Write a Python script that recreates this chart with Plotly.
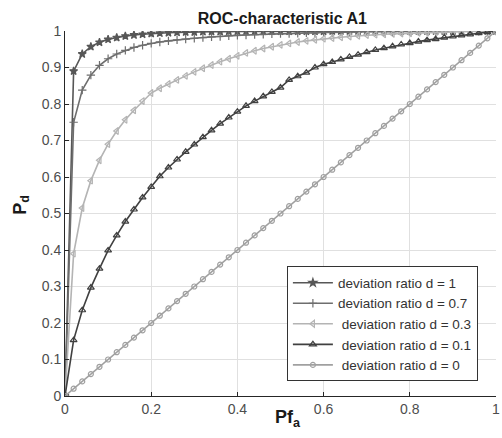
import plotly.graph_objects as go

pfa = [0.00, 0.02, 0.04, 0.06, 0.08, 0.10, 0.12, 0.14, 0.16, 0.18,
       0.20, 0.22, 0.24, 0.26, 0.28, 0.30, 0.32, 0.34, 0.36, 0.38,
       0.40, 0.42, 0.44, 0.46, 0.48, 0.50, 0.52, 0.54, 0.56, 0.58,
       0.60, 0.62, 0.64, 0.66, 0.68, 0.70, 0.72, 0.74, 0.76, 0.78,
       0.80, 0.82, 0.84, 0.86, 0.88, 0.90, 0.92, 0.94, 0.96, 0.98, 1.00]

pd_d1 = [0.000, 0.890, 0.937, 0.957, 0.969, 0.977, 0.982, 0.986, 0.989, 0.991,
         0.993, 0.994, 0.995, 0.996, 0.997, 0.997, 0.998, 0.998, 0.998, 0.999,
         0.999, 0.999, 0.999, 0.999, 0.999, 0.999, 0.999, 0.999, 0.999, 0.999,
         0.999, 1.000, 1.000, 1.000, 1.000, 1.000, 1.000, 1.000, 1.000, 1.000,
         1.000, 1.000, 1.000, 1.000, 1.000, 1.000, 1.000, 1.000, 1.000, 1.000, 1.000]

pd_d07 = [0.000, 0.750, 0.838, 0.879, 0.906, 0.924, 0.937, 0.947, 0.955, 0.961,
          0.966, 0.970, 0.973, 0.976, 0.978, 0.980, 0.982, 0.984, 0.985, 0.987,
          0.988, 0.989, 0.990, 0.991, 0.992, 0.993, 0.993, 0.994, 0.995, 0.995,
          0.996, 0.996, 0.997, 0.997, 0.997, 0.998, 0.998, 0.998, 0.998, 0.999,
          0.999, 0.999, 0.999, 0.999, 0.999, 0.999, 0.999, 0.999, 0.999, 0.999, 1.000]

pd_d03 = [0.000, 0.390, 0.515, 0.590, 0.646, 0.690, 0.726, 0.757, 0.783, 0.808,
          0.830, 0.843, 0.855, 0.866, 0.877, 0.888, 0.898, 0.907, 0.916, 0.924,
          0.932, 0.940, 0.946, 0.952, 0.957, 0.962, 0.966, 0.970, 0.973, 0.976,
          0.979, 0.981, 0.983, 0.985, 0.987, 0.989, 0.990, 0.991, 0.992, 0.993,
          0.994, 0.995, 0.996, 0.997, 0.997, 0.998, 0.998, 0.999, 0.999, 1.000, 1.000]

pd_d01 = [0.000, 0.153, 0.235, 0.297, 0.349, 0.399, 0.440, 0.478, 0.511, 0.544,
          0.573, 0.602, 0.626, 0.648, 0.669, 0.689, 0.709, 0.728, 0.746, 0.763,
          0.779, 0.795, 0.808, 0.821, 0.833, 0.845, 0.866, 0.876, 0.886, 0.900,
          0.909, 0.915, 0.922, 0.929, 0.935, 0.942, 0.948, 0.953, 0.958, 0.963,
          0.967, 0.971, 0.975, 0.978, 0.982, 0.985, 0.988, 0.991, 0.994, 0.997, 1.000]

pd_d0 = [0.00, 0.02, 0.04, 0.06, 0.08, 0.10, 0.12, 0.14, 0.16, 0.18,
         0.20, 0.22, 0.24, 0.26, 0.28, 0.30, 0.32, 0.34, 0.36, 0.38,
         0.40, 0.42, 0.44, 0.46, 0.48, 0.50, 0.52, 0.54, 0.56, 0.58,
         0.60, 0.62, 0.64, 0.66, 0.68, 0.70, 0.72, 0.74, 0.76, 0.78,
         0.80, 0.82, 0.84, 0.86, 0.88, 0.90, 0.92, 0.94, 0.96, 0.98, 1.00]

names = ["deviation ratio d = 1", "deviation ratio d = 0.7",
         "\u00a0deviation ratio d = 0.3", "\u00a0deviation ratio d = 0.1",
         "\u00a0deviation ratio d = 0"]
series = [pd_d1, pd_d07, pd_d03, pd_d01, pd_d0]
colors = ["#575757", "#6e6e6e", "#b4b4b4", "#404040", "#a0a0a0"]
symbols = ["star", "cross-thin-open", "triangle-left-open", "triangle-up-open", "circle-open"]
msizes = [6, 6, 6, 6, 5]

xticks = [0, 0.2, 0.4, 0.6, 0.8, 1]
xticklabels = ["0", "0.2", "0.4", "0.6", "0.8", "1"]
yticks = [0, 0.1, 0.2, 0.3, 0.4, 0.5, 0.6, 0.7, 0.8, 0.9, 1]
yticklabels = ["0", "0.1", "0.2", "0.3", "0.4", "0.5", "0.6", "0.7", "0.8", "0.9", "1"]

fig = go.Figure()
for name, ys, c, s, ms in zip(names, series, colors, symbols, msizes):
    fig.add_trace(go.Scatter(
        x=pfa, y=ys, mode="lines+markers", name=name,
        line=dict(color=c, width=1.6),
        marker=dict(symbol=s, size=ms, color=c, line=dict(color=c, width=1.2)),
    ))

font_family = "Liberation Sans, Arial, sans-serif"
fig.update_layout(
    width=502, height=438,
    margin=dict(l=65, r=2, t=31, b=42),
    paper_bgcolor="white", plot_bgcolor="white",
    font=dict(family=font_family, color="#4d4d4d", size=14),
    title=dict(text="<b>ROC-characteristic A1</b>", x=0.5625, xanchor="center",
               y=0.958, yanchor="middle", font=dict(size=16, color="#1a1a1a")),
    showlegend=True,
    legend=dict(x=0.958, y=0.04, xanchor="right", yanchor="bottom",
                bgcolor="white", bordercolor="#333333", borderwidth=1,
                itemwidth=40,
                font=dict(size=13.5, color="#333333"), tracegroupgap=0),
    xaxis=dict(range=[0, 1], tickvals=xticks, ticktext=xticklabels,
               ticklabeloverflow="allow",
               showgrid=True, gridcolor="#e0e0e0", gridwidth=1,
               showline=True, linecolor="#262626", linewidth=1, mirror=False,
               ticks="inside", ticklen=4, tickcolor="#262626", zeroline=False),
    yaxis=dict(range=[0, 1], tickvals=yticks, ticktext=yticklabels,
               showgrid=True, gridcolor="#e0e0e0", gridwidth=1,
               showline=True, linecolor="#262626", linewidth=1, mirror=False,
               ticks="inside", ticklen=4, tickcolor="#262626", zeroline=False),
    annotations=[
        dict(text="<b>P<sub>d</sub></b>", xref="paper", yref="paper",
             x=-0.103, y=0.523, xanchor="center", yanchor="middle",
             textangle=-90, showarrow=False, font=dict(size=18, color="#1a1a1a")),
        dict(text="<b>Pf<sub>a</sub></b>", xref="paper", yref="paper",
             x=0.517, y=-0.061, xanchor="center", yanchor="middle",
             showarrow=False, font=dict(size=18, color="#1a1a1a")),
    ],
)

fig.write_html("out.html")
